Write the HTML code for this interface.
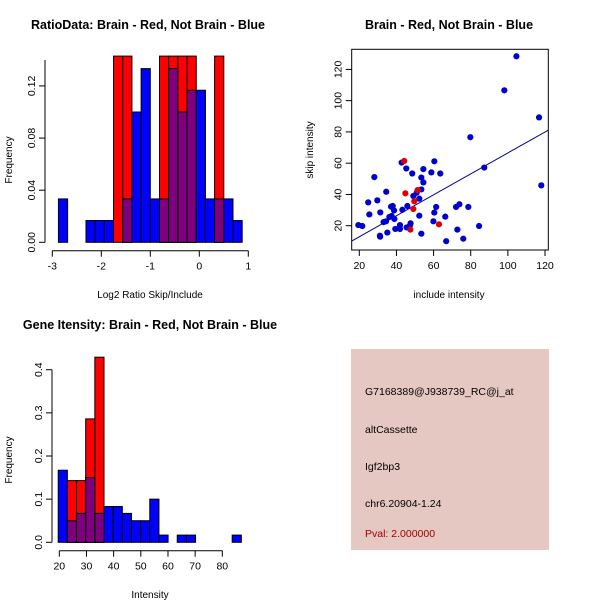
<!DOCTYPE html>
<html><head><meta charset="utf-8"><style>
html,body{margin:0;padding:0;background:#fff;}
svg{display:block;font-family:"Liberation Sans",Arial,sans-serif;}
</style></head><body>
<svg id="chart" width="600" height="600" viewBox="0 0 600 600">
<g>
<text x="148" y="29" font-size="12.5" font-weight="bold" text-anchor="middle">RatioData: Brain - Red, Not Brain - Blue</text>
<text transform="translate(12,160) rotate(-90)" font-size="10" text-anchor="middle">Frequency</text>
<text x="150" y="298" font-size="10" text-anchor="middle">Log2 Ratio Skip/Include</text>
<g id="h1"></g>
</g>
<g>
<text x="449" y="29" font-size="12.5" font-weight="bold" text-anchor="middle">Brain - Red, Not Brain - Blue</text>
<text transform="translate(313,150) rotate(-90)" font-size="10" text-anchor="middle">skip intensity</text>
<text x="449" y="298" font-size="10" text-anchor="middle">include intensity</text>
<g id="sc"></g>
</g>
<g>
<text x="150" y="329" font-size="12.5" font-weight="bold" text-anchor="middle">Gene Itensity: Brain - Red, Not Brain - Blue</text>
<text transform="translate(12,460) rotate(-90)" font-size="10" text-anchor="middle">Frequency</text>
<text x="150" y="598" font-size="10" text-anchor="middle">Intensity</text>
<g id="h2"></g>
</g>
<g>
<rect x="351" y="349" width="198" height="201" fill="#e6c8c2"/>
<text x="365" y="395" font-size="10.5">G7168389@J938739_RC@j_at</text>
<text x="365" y="433" font-size="10.5">altCassette</text>
<text x="365" y="470" font-size="10.5">Igf2bp3</text>
<text x="365" y="507" font-size="10.5">chr6.20904-1.24</text>
<text x="365" y="537" font-size="10.5" fill="#a00000">Pval: 2.000000</text>
</g>
</svg>
<script>
// Ratio histogram data
const h1Start = -2.875, h1Width = 0.1875;
const h1Blue = [0.0333,0,0,0.0167,0.0167,0.0167,0,0.0333,0.1,0.1333,0.0333,0.0333,0.1333,0.1,0.1167,0.1167,0.0333,0.0333,0.0333,0.0167];
const h1Red = [0,0,0,0,0,0,0.1429,0.1429,0,0,0,0.1429,0.1429,0.1429,0.1429,0,0,0.1429,0,0];
const h1XTicks = [-3,-2,-1,0,1];
const h1YTicks = [0,0.04,0.08,0.12];
const h1YLabels = ["0.00","0.04","0.08","0.12"];
// Intensity histogram data
const h2Start = 19.6, h2Width = 3.37;
const h2Blue = [0.167,0.05,0.067,0.15,0.067,0.083,0.083,0.067,0.05,0.05,0.1,0.0167,0,0.0167,0.0167,0,0,0,0,0.0167];
const h2Red = [0,0.143,0.143,0.286,0.429,0,0,0,0,0,0,0,0,0,0,0,0,0,0,0];
const h2XTicks = [20,30,40,50,60,70,80];
const h2YTicks = [0,0.1,0.2,0.3,0.4];
const h2YLabels = ["0.0","0.1","0.2","0.3","0.4"];
// Scatter data
const scBlueX = [19.5,21.6,24.8,25.4,28.1,29.7,31.3,31.1,33.1,34.4,34.5,35.1,36.2,37.1,38.0,37.4,38.7,38.9,39.4,41.9,41.9,42.8,43.2,45.3,45.5,45.9,47.3,47.6,48.5,49.1,50.9,52.3,52.3,53.4,53.4,53.4,54.5,54.5,58.8,60.4,59.9,60.4,61.4,63.6,66.3,66.8,72.1,72.8,73.9,76.0,78.7,79.8,84.5,87.3,98.1,104.6,116.8,118.0,31.2];
const scBlueY = [20.4,19.8,34.9,27.2,51.1,36.2,28.5,13.6,22.3,22.8,41.7,15.6,25.6,32.2,32.6,26.2,29.8,24.3,17.9,20.4,17.9,60.4,30.2,56.6,18.9,32.6,20.2,21.5,53.4,39.0,41.1,37.3,26.4,50.8,43.2,14.9,56.2,47.7,54.1,61.2,22.8,28.4,32.0,53.4,25.8,10.1,32.0,17.5,33.7,11.7,32.0,76.6,19.8,57.2,106.6,128.4,89.3,45.8,13.0];
const scRedX = [44.2,44.8,49.6,49.1,51.4,47.5,62.9];
const scRedY = [61.4,40.7,35.6,30.7,42.8,17.5,20.9];
const fitIntercept = -0.45, fitSlope = 0.670;
const scXTicks = [20,40,60,80,100,120];
const scYTicks = [20,40,60,80,100,120];

const NS = "http://www.w3.org/2000/svg";
function mk(parent, tag, attrs){const e=document.createElementNS(NS,tag);for(const k in attrs)e.setAttribute(k,attrs[k]);parent.appendChild(e);return e;}

function hist(g, start, width, blue, red, xs, ys, xt, yt, yl, prefix){
  const X = v => xs[0] + (v - xs[1]) * xs[2];
  const Y = v => ys[0] - v * ys[1];
  for(let i=0;i<blue.length;i++){
    const x0=X(start+i*width), x1=X(start+(i+1)*width);
    const b=blue[i], r=red[i];
    if(b>0){const e=mk(g,"rect",{x:x0,y:Y(b),width:x1-x0,height:Y(0)-Y(b),fill:"#0000ff",stroke:"#000","stroke-width":1});
      
      }
    if(r>0){const e=mk(g,"rect",{x:x0,y:Y(r),width:x1-x0,height:Y(0)-Y(r),fill:"#ff0000",stroke:"#000","stroke-width":1});
      
      }
    const m=Math.min(b,r);
    if(m>0){const e=mk(g,"rect",{x:x0,y:Y(m),width:x1-x0,height:Y(0)-Y(m),fill:"#7f007f",stroke:"#000","stroke-width":1});
      
      }
  }
  const ax = xs[3], ay = ys[2];
  const xa=mk(g,"line",{x1:X(xt[0]),x2:X(xt[xt.length-1]),y1:ay,y2:ay,stroke:"#000"});
  
  
  xt.forEach(t=>{mk(g,"line",{x1:X(t),x2:X(t),y1:ay,y2:ay+6,stroke:"#000"});
    const tx=mk(g,"text",{x:X(t),y:ay+19,"font-size":10.5,"text-anchor":"middle"});tx.textContent=t;
    
    });
  const ya=mk(g,"line",{x1:ax,x2:ax,y1:Y(yt[0]),y2:ys[3],stroke:"#000"});
  
  
  yt.forEach((t,i)=>{mk(g,"line",{x1:ax,x2:ax-6,y1:Y(t),y2:Y(t),stroke:"#000"});
    const tx=mk(g,"text",{transform:`translate(${ax-10},${Y(t)}) rotate(-90)`,"font-size":10.5,"text-anchor":"middle"});tx.textContent=yl[i];
    
    });
}
hist(document.getElementById("h1"),h1Start,h1Width,h1Blue,h1Red,[52.3,-3,49,45],[242.3,1303,250.7,60],h1XTicks,h1YTicks,h1YLabels,"ratio");
hist(document.getElementById("h2"),h2Start,h2Width,h2Blue,h2Red,[59.3,20,2.717,52],[542.3,431.5,550.7,369.7],h2XTicks,h2YTicks,h2YLabels,"intensity");

(function(){
  const g=document.getElementById("sc");
  const X=v=>359.3+(v-20)*1.857;
  const Y=v=>225.7-(v-20)*1.563;
  const L=351.7,R=548.3,T=49.3,B=250;
  const bx=mk(g,"rect",{x:L,y:T,width:R-L,height:B-T,fill:"none",stroke:"#000"});
  
  
  scXTicks.forEach(t=>{mk(g,"line",{x1:X(t),x2:X(t),y1:B,y2:B+6,stroke:"#000"});
    const tx=mk(g,"text",{x:X(t),y:B+19,"font-size":10.5,"text-anchor":"middle"});tx.textContent=t;
    
    });
  scYTicks.forEach(t=>{mk(g,"line",{x1:L,x2:L-6,y1:Y(t),y2:Y(t),stroke:"#000"});
    const tx=mk(g,"text",{transform:`translate(${L-10},${Y(t)}) rotate(-90)`,"font-size":10.5,"text-anchor":"middle"});tx.textContent=t;
    
    });
  const x0=(L-359.3)/1.857+20, x1=(R-359.3)/1.857+20;
  const ln=mk(g,"line",{x1:L,x2:R,y1:Y(fitIntercept+fitSlope*x0),y2:Y(fitIntercept+fitSlope*x1),stroke:"#00008b","stroke-width":1});
  
  
  scBlueX.forEach((v,i)=>{const c=mk(g,"circle",{cx:X(v),cy:Y(scBlueY[i]),r:3.1,fill:"#0000cd"});
    
    });
  scRedX.forEach((v,i)=>{const c=mk(g,"circle",{cx:X(v),cy:Y(scRedY[i]),r:3.1,fill:"#e00000"});
    
    });
})();
</script>
</body></html>
